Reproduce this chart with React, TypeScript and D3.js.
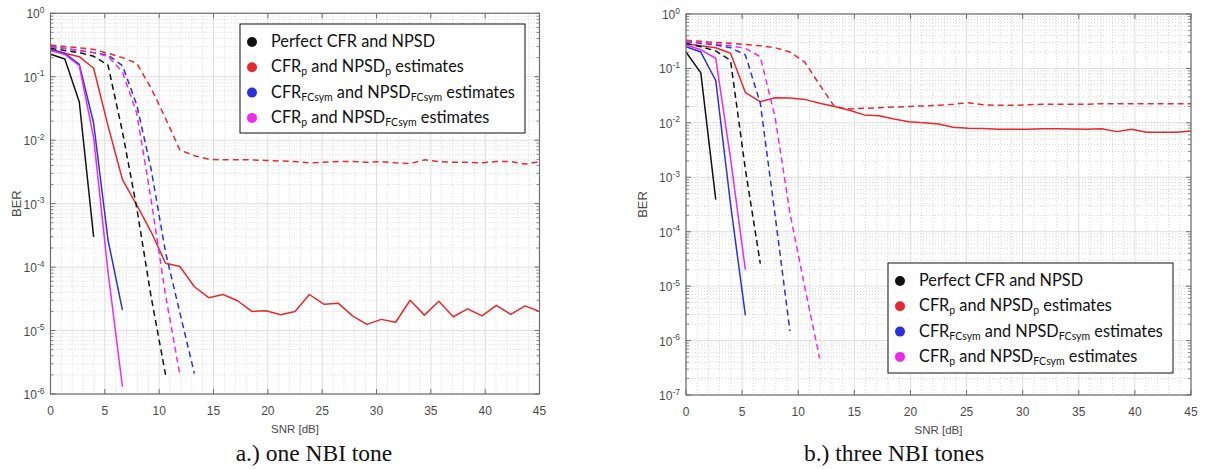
import React from "react";
import * as d3 from "d3";

// ---------- data ----------
const SNR = [0, 1.32, 2.65, 3.97, 5.29, 6.62, 7.94, 9.26, 10.59, 11.91, 13.24, 14.56, 15.88, 17.21, 18.53, 19.85, 21.18, 22.5, 23.82, 25.15, 26.47, 27.79, 29.12, 30.44, 31.76, 33.09, 34.41, 35.74, 37.06, 38.38, 39.71, 41.03, 42.35, 43.68, 45];

// (a) one NBI tone
const A_perfectSolid = [0.226, 0.19, 0.040, 3.0e-4];
const A_perfectDashed = [0.28, 0.26, 0.24, 0.21, 0.153, 0.0136, 8.5e-4, 3.4e-5, 2.0e-6];
const A_pSolid = [0.264, 0.234, 0.207, 0.136, 0.017, 0.0024, 9.5e-4, 3.6e-4, 1.15e-4, 1.02e-4, 4.9e-5, 3.3e-5, 3.7e-5, 2.95e-5, 2.0e-5, 2.05e-5, 1.78e-5, 2.0e-5, 3.7e-5, 2.6e-5, 2.7e-5, 1.7e-5, 1.25e-5, 1.5e-5, 1.35e-5, 3.0e-5, 1.75e-5, 2.9e-5, 1.65e-5, 2.2e-5, 1.7e-5, 2.5e-5, 1.8e-5, 2.45e-5, 2.0e-5];
const A_pDashed = [0.316, 0.30, 0.285, 0.27, 0.234, 0.20, 0.163, 0.066, 0.022, 0.007, 0.0057, 0.005, 4.9e-3, 4.9e-3, 4.9e-3, 4.8e-3, 4.7e-3, 4.6e-3, 4.4e-3, 4.5e-3, 4.6e-3, 4.6e-3, 4.5e-3, 4.6e-3, 4.4e-3, 4.3e-3, 4.9e-3, 4.6e-3, 4.5e-3, 4.5e-3, 4.4e-3, 4.6e-3, 4.6e-3, 4.2e-3, 4.6e-3];
const A_fcSolid = [0.27, 0.234, 0.157, 0.0185, 2.7e-4, 2.1e-5];
const A_fcDashed = [0.30, 0.28, 0.26, 0.24, 0.22, 0.15, 0.036, 3.5e-3, 1.7e-4, 1.9e-5, 2.1e-6];
const A_mixSolid = [0.26, 0.225, 0.149, 0.011, 8.5e-5, 1.3e-6];
const A_mixDashed = [0.295, 0.28, 0.26, 0.24, 0.21, 0.12, 0.0265, 1.15e-3, 3.6e-5, 2.0e-6];

// (b) three NBI tones
const B_perfectSolid = [0.2, 0.083, 3.9e-4];
const B_perfectDashed = [0.29, 0.25, 0.21, 0.14, 1.4e-3, 2.6e-5];
const B_pSolid = [0.28, 0.26, 0.24, 0.19, 0.036, 0.0245, 0.029, 0.0285, 0.027, 0.023, 0.020, 0.017, 0.014, 0.0135, 0.0118, 0.0105, 0.0100, 0.0095, 0.0083, 0.0080, 0.0079, 0.0076, 0.0076, 0.0076, 0.0078, 0.0078, 0.0077, 0.0076, 0.0078, 0.0069, 0.0076, 0.0067, 0.0067, 0.0067, 0.0071];
const B_pDashed = [0.33, 0.315, 0.30, 0.29, 0.275, 0.26, 0.24, 0.20, 0.13, 0.05, 0.0198, 0.018, 0.0185, 0.019, 0.0195, 0.020, 0.0205, 0.021, 0.022, 0.0235, 0.0215, 0.021, 0.021, 0.0215, 0.022, 0.022, 0.022, 0.022, 0.0225, 0.0225, 0.0225, 0.0225, 0.0225, 0.0225, 0.0225];
const B_fcSolid = [0.25, 0.2, 0.06, 3.2e-4, 2.9e-6];
const B_fcDashed = [0.31, 0.29, 0.27, 0.24, 0.177, 0.023, 2.0e-4, 1.5e-6];
const B_mixSolid = [0.27, 0.22, 0.154, 2.2e-3, 2.0e-5];
const B_mixDashed = [0.32, 0.30, 0.28, 0.26, 0.235, 0.164, 0.0127, 2.2e-4, 9.5e-6, 4.7e-7];

const X_TICKS = [0, 5, 10, 15, 20, 25, 30, 35, 40, 45];
const A_EXPONENTS = [0, -1, -2, -3, -4, -5, -6];
const B_EXPONENTS = [0, -1, -2, -3, -4, -5, -6, -7];
const CAPTIONS = ["a.) one NBI tone", "b.) three NBI tones"];

// ---------- styles ----------
const C = { black: "#111111", red: "#e8282c", blue: "#2a32dc", magenta: "#ec2aec" };

const seriesA = [
  { v: A_perfectSolid, c: C.black, d: false },
  { v: A_pSolid, c: C.red, d: false },
  { v: A_fcSolid, c: C.blue, d: false },
  { v: A_mixSolid, c: C.magenta, d: false },
  { v: A_perfectDashed, c: C.black, d: true },
  { v: A_pDashed, c: C.red, d: true },
  { v: A_fcDashed, c: C.blue, d: true },
  { v: A_mixDashed, c: C.magenta, d: true },
];
const seriesB = [
  { v: B_perfectSolid, c: C.black, d: false },
  { v: B_pSolid, c: C.red, d: false },
  { v: B_fcSolid, c: C.blue, d: false },
  { v: B_mixSolid, c: C.magenta, d: false },
  { v: B_perfectDashed, c: C.black, d: true },
  { v: B_pDashed, c: C.red, d: true },
  { v: B_fcDashed, c: C.blue, d: true },
  { v: B_mixDashed, c: C.magenta, d: true },
];

const panels = [
  { x0: 50.5, x1: 539.5, yTop: 13.3, yBot: 394, exps: A_EXPONENTS, series: seriesA, leg: { x: 240, y: 24, w: 285, h: 109 }, capX: 314, yLab: 17, caption: CAPTIONS[0] },
  { x0: 686, x1: 1191, yTop: 14, yBot: 395, exps: B_EXPONENTS, series: seriesB, leg: { x: 888, y: 263, w: 285, h: 110 }, capX: 894, yLab: 643, caption: CAPTIONS[1] },
];

const AX = "#6e6e6e";
const TXT = "#4a4a4a";
const FONT = "'Liberation Sans', Arial, sans-serif";
const LFONT = "Lato, 'Open Sans', sans-serif";

function LegendText({ parts, x, y }: { parts: [string, boolean][]; x: number; y: number }) {
  return (
    <text x={x} y={y} fontFamily={LFONT} fontSize={16.3} fill="#111">
      {parts.map(([t, sub], i) =>
        sub ? (
          <tspan key={i} fontSize={10.5} dy={3}>{t}</tspan>
        ) : (
          <tspan key={i} dy={i > 0 && parts[i - 1][1] ? -3 : 0}>{t}</tspan>
        )
      )}
    </text>
  );
}

const LEGEND_ITEMS: { c: string; parts: [string, boolean][] }[] = [
  { c: C.black, parts: [["Perfect CFR and NPSD", false]] },
  { c: C.red, parts: [["CFR", false], ["p", true], [" and NPSD", false], ["p", true], [" estimates", false]] },
  { c: C.blue, parts: [["CFR", false], ["FCsym", true], [" and NPSD", false], ["FCsym", true], [" estimates", false]] },
  { c: C.magenta, parts: [["CFR", false], ["p", true], [" and NPSD", false], ["FCsym", true], [" estimates", false]] },
];

function Panel({ p }: { p: any }) {
  const x = d3.scaleLinear().domain([0, 45]).range([p.x0, p.x1]);
  const minE = p.exps[p.exps.length - 1];
  const y = d3.scaleLog().domain([Math.pow(10, minE), 1]).range([p.yBot, p.yTop]);
  const line = d3
    .line<number>()
    .x((_, i) => x(SNR[i]))
    .y((v) => y(v));

  const minorX = d3.range(0, 46).filter((v) => v % 5 !== 0);
  const minorY: number[] = [];
  for (let e = minE; e < 0; e++) for (let k = 2; k <= 9; k++) minorY.push(k * Math.pow(10, e));

  return (
    <g>
      <rect x={p.x0} y={p.yTop} width={p.x1 - p.x0} height={p.yBot - p.yTop} fill="#fff" />
      {/* minor grid */}
      {minorX.map((v) => (
        <line key={"mx" + v} x1={x(v)} x2={x(v)} y1={p.yTop} y2={p.yBot} stroke="#c6c6c6" strokeWidth={0.7} strokeDasharray="1,2" />
      ))}
      {minorY.map((v, i) => (
        <line key={"my" + i} x1={p.x0} x2={p.x1} y1={y(v)} y2={y(v)} stroke="#c6c6c6" strokeWidth={0.7} strokeDasharray="1,2" />
      ))}
      {/* major grid */}
      {X_TICKS.map((v) => (
        <line key={"gx" + v} x1={x(v)} x2={x(v)} y1={p.yTop} y2={p.yBot} stroke="#d6d6d6" strokeWidth={0.8} />
      ))}
      {p.exps.map((e: number) => (
        <line key={"gy" + e} x1={p.x0} x2={p.x1} y1={y(Math.pow(10, e))} y2={y(Math.pow(10, e))} stroke="#d6d6d6" strokeWidth={0.8} />
      ))}
      {/* series */}
      {p.series.map((s: any, i: number) => (
        <path key={i} d={line(s.v) || ""} fill="none" stroke={s.c} strokeWidth={1.5} strokeDasharray={s.d ? "6,4" : undefined} strokeLinejoin="round" />
      ))}
      {/* box */}
      <rect x={p.x0} y={p.yTop} width={p.x1 - p.x0} height={p.yBot - p.yTop} fill="none" stroke={AX} strokeWidth={1.2} />
      {/* x ticks */}
      {X_TICKS.map((v) => (
        <g key={"xt" + v}>
          <line x1={x(v)} x2={x(v)} y1={p.yBot} y2={p.yBot - 5} stroke={AX} />
          <line x1={x(v)} x2={x(v)} y1={p.yTop} y2={p.yTop + 5} stroke={AX} />
          <text x={x(v)} y={p.yBot + 21} textAnchor="middle" fontFamily={FONT} fontSize={12} fill={TXT}>{v}</text>
        </g>
      ))}
      {/* y ticks */}
      {minorY.map((v, i) => (
        <g key={"ymt" + i}>
          <line x1={p.x0} x2={p.x0 + 3} y1={y(v)} y2={y(v)} stroke={AX} strokeWidth={0.8} />
          <line x1={p.x1} x2={p.x1 - 3} y1={y(v)} y2={y(v)} stroke={AX} strokeWidth={0.8} />
        </g>
      ))}
      {p.exps.map((e: number) => (
        <g key={"yt" + e}>
          <line x1={p.x0} x2={p.x0 + 5} y1={y(Math.pow(10, e))} y2={y(Math.pow(10, e))} stroke={AX} />
          <line x1={p.x1} x2={p.x1 - 5} y1={y(Math.pow(10, e))} y2={y(Math.pow(10, e))} stroke={AX} />
          <text x={p.x0 - 6} y={y(Math.pow(10, e)) + 5} textAnchor="end" fontFamily={FONT} fontSize={12} fill={TXT}>
            10<tspan fontSize={8.5} dy={-5.5}>{e}</tspan>
          </text>
        </g>
      ))}
      {/* axis labels */}
      <text x={(p.x0 + p.x1) / 2} y={p.yBot + 39} textAnchor="middle" fontFamily={FONT} fontSize={11.5} fill={TXT}>SNR [dB]</text>
      <text transform={`translate(${p.yLab + 4},${(p.yTop + p.yBot) / 2}) rotate(-90)`} textAnchor="middle" fontFamily={FONT} fontSize={13} fill={TXT}>BER</text>
      {/* legend */}
      <rect x={p.leg.x} y={p.leg.y} width={p.leg.w} height={p.leg.h} fill="#fff" stroke="#111" strokeWidth={1} />
      {LEGEND_ITEMS.map((it, i) => {
        const cy = p.leg.y + 17 + i * 25.3;
        return (
          <g key={"lg" + i}>
            <circle cx={p.leg.x + 12} cy={cy + 1} r={5} fill={it.c} />
            <LegendText parts={it.parts} x={p.leg.x + 31} y={cy + 6} />
          </g>
        );
      })}
      {/* caption */}
      <text x={p.capX} y={461} textAnchor="middle" fontFamily="'Liberation Serif', 'Times New Roman', serif" fontSize={23.5} fill="#111">{p.caption}</text>
    </g>
  );
}

export default function App() {
  return (
    <svg width={1205} height={469} style={{ position: "absolute", left: 0, top: 0, background: "#fff" }}>
      <rect width={1205} height={469} fill="#fff" />
      {panels.map((p, i) => (
        <Panel key={i} p={p} />
      ))}
    </svg>
  );
}
